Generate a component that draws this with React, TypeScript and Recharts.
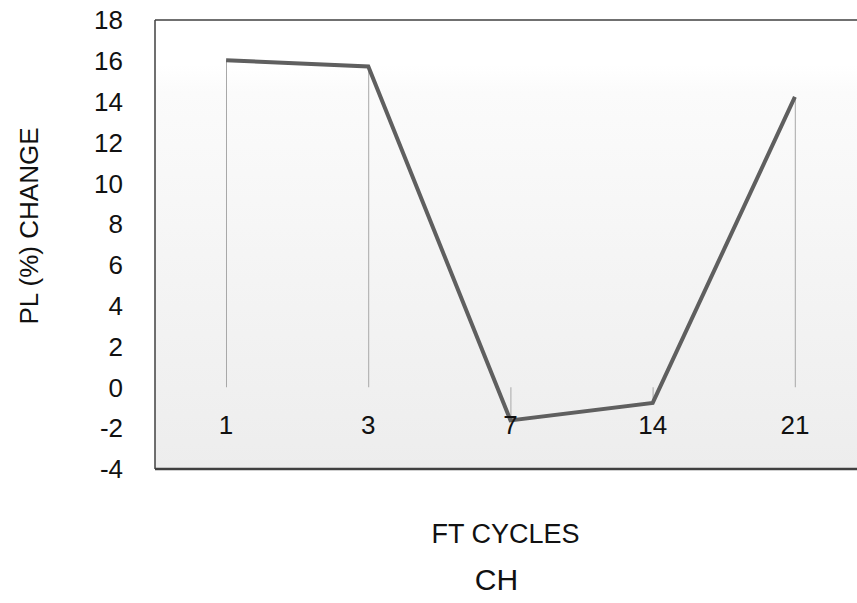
import React from "react";
import {
  Bar,
  CartesianGrid,
  ComposedChart,
  Label,
  Line,
  ReferenceLine,
  XAxis,
  YAxis,
} from "recharts";

const cycles = ["1", "3", "7", "14", "21"];
const plChange = [16.03, 15.72, -1.62, -0.76, 14.23];
const yTicks = [-4, -2, 0, 2, 4, 6, 8, 10, 12, 14, 16, 18];

const data = cycles.map((cycle, i) => ({ cycle, value: plChange[i] }));

const FONT = "'Liberation Sans', Arial, sans-serif";

const CycleTick = (props: any) => {
  const { x, y, payload } = props;
  return (
    <text x={x} y={y} dy={-35} textAnchor="middle" fontSize={26} fill="#111" fontFamily={FONT}>
      {payload.value}
    </text>
  );
};

const XTitle = (props: any) => {
  const { viewBox } = props;
  const cx = viewBox.x + viewBox.width / 2;
  return (
    <g fontFamily={FONT} fill="#111">
      <text x={cx - 5} y={543} textAnchor="middle" fontSize={27}>
        FT CYCLES
      </text>
      <text x={cx - 14} y={590} textAnchor="middle" fontSize={30}>
        CH
      </text>
    </g>
  );
};

const YTitle = () => (
  <text
    x={38}
    y={226}
    transform="rotate(-90 38 226)"
    textAnchor="middle"
    fontSize={26}
    fill="#111"
    fontFamily={FONT}
  >
    PL (%) CHANGE
  </text>
);

export default function App() {
  return (
    <div style={{ position: "fixed", left: 0, top: 0, width: 857, height: 603, overflow: "hidden", background: "#fff" }}>
      <ComposedChart
        width={900}
        height={603}
        data={data}
        margin={{ top: 20, right: 34, left: 75, bottom: 74 }}
      >
        <defs>
          <linearGradient id="plotBg" x1="0" y1="0" x2="0" y2="1">
            <stop offset="0" stopColor="#ffffff" />
            <stop offset="0.1" stopColor="#ffffff" />
            <stop offset="0.16" stopColor="#fbfbfb" />
            <stop offset="1" stopColor="#ededed" />
          </linearGradient>
        </defs>
        <CartesianGrid horizontal={false} vertical={false} fill="url(#plotBg)" />
        <XAxis
          dataKey="cycle"
          height={60}
          tickSize={0}
          tickMargin={0}
          interval={0}
          tick={<CycleTick />}
          axisLine={{ stroke: "#404040", strokeWidth: 2.5 }}
          tickLine={false}
        >
          <Label content={<XTitle />} />
        </XAxis>
        <YAxis
          domain={[-4, 18]}
          ticks={yTicks}
          interval={0}
          width={80}
          tickLine={false}
          tickMargin={26}
          axisLine={{ stroke: "#404040", strokeWidth: 1.5 }}
          tick={{ fontSize: 26, fill: "#111", fontFamily: FONT }}
        >
          <Label content={<YTitle />} />
        </YAxis>
        <ReferenceLine y={18} stroke="#404040" strokeWidth={1.5} />
        <Bar dataKey="value" barSize={1} fill="#a8a8a8" isAnimationActive={false} />
        <Line
          dataKey="value"
          type="linear"
          stroke="#5f5f5f"
          strokeWidth={4}
          dot={false}
          activeDot={false}
          isAnimationActive={false}
        />
      </ComposedChart>
    </div>
  );
}
